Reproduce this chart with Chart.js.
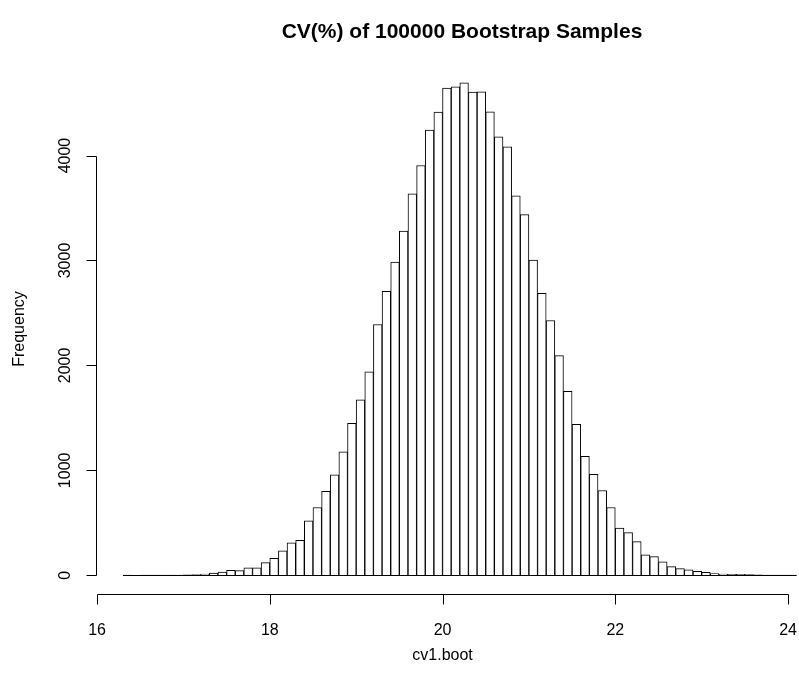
<!DOCTYPE html>
<html lang="en">
  <head>
    <meta charset="UTF-8" />
    <title>CV(%) of 100000 Bootstrap Samples</title>
    <style>
      body {
        margin: 0;
        padding: 0;
        background-color: #fff;
      }

      .chart-container {
        width: 799px;
        height: 684px;
        position: relative;
      }
    </style>
  </head>
  <body>
    <div class="chart-container">
      <canvas id="histChart"></canvas>
    </div>

    <script src="https://cdn.jsdelivr.net/npm/chart.js"></script>
    <script>
      // histogram bins (midpoints, width 0.1) and counts
      const binMids = [
        16.35, 16.45, 16.55, 16.65, 16.75, 16.85, 16.95, 17.05, 17.15, 17.25,
        17.35, 17.45, 17.55, 17.65, 17.75, 17.85, 17.95, 18.05, 18.15, 18.25,
        18.35, 18.45, 18.55, 18.65, 18.75, 18.85, 18.95, 19.05, 19.15, 19.25,
        19.35, 19.45, 19.55, 19.65, 19.75, 19.85, 19.95, 20.05, 20.15, 20.25,
        20.35, 20.45, 20.55, 20.65, 20.75, 20.85, 20.95, 21.05, 21.15, 21.25,
        21.35, 21.45, 21.55, 21.65, 21.75, 21.85, 21.95, 22.05, 22.15, 22.25,
        22.35, 22.45, 22.55, 22.65, 22.75, 22.85, 22.95, 23.05, 23.15, 23.25,
        23.35, 23.45, 23.55, 23.65, 23.75, 23.85, 23.95, 24.05,
      ];
      const counts = [
        1, 0, 1, 2, 2, 3, 3, 5, 7, 11,
        20, 30, 48, 45, 70, 70, 121, 162, 232, 309,
        334, 519, 646, 800, 957, 1177, 1448, 1671, 1938, 2390,
        2705, 2985, 3281, 3634, 3905, 4242, 4414, 4643, 4656, 4694,
        4605, 4608, 4417, 4178, 4083, 3615, 3437, 3004, 2686, 2428,
        2094, 1753, 1438, 1133, 961, 808, 646, 449, 407, 321,
        196, 178, 127, 83, 64, 52, 38, 27, 17, 12,
        10, 9, 6, 4, 3, 2, 1, 1,
      ];
      const binWidth = 0.1;
      const xTicks = [16, 18, 20, 22, 24];
      const yTicks = [0, 1000, 2000, 3000, 4000];

      const titleText = "CV(%) of 100000 Bootstrap Samples";
      const xTitle = "cv1.boot";
      const yTitle = "Frequency";
      const fontFamily = '"Liberation Sans", Arial, Helvetica, sans-serif';

      // R style axes, title and the zero baseline under every bin
      const rAxes = {
        id: "rAxes",
        afterDatasetsDraw(chart) {
          const ctx = chart.ctx;
          const xs = chart.scales.x;
          const ys = chart.scales.y;
          const y0 = Math.round(ys.getPixelForValue(0)) + 0.5;
          ctx.save();
          ctx.strokeStyle = "#000";
          ctx.lineWidth = 1;
          ctx.beginPath();
          ctx.moveTo(xs.getPixelForValue(binMids[0] - binWidth / 2), y0);
          ctx.lineTo(
            xs.getPixelForValue(binMids[binMids.length - 1] + binWidth / 2),
            y0
          );
          ctx.stroke();
          ctx.restore();
        },
        afterDraw(chart) {
          const ctx = chart.ctx;
          const area = chart.chartArea;
          const xs = chart.scales.x;
          const ys = chart.scales.y;
          // the plot region runs past the right edge of the picture
          const midX = (area.left + 828) / 2;
          ctx.save();
          ctx.strokeStyle = "#000";
          ctx.fillStyle = "#000";
          ctx.lineWidth = 1;

          // x axis
          const ax = Math.round(area.bottom) - 0.5;
          ctx.beginPath();
          ctx.moveTo(Math.round(xs.getPixelForValue(xTicks[0])) + 0.5, ax);
          ctx.lineTo(
            Math.round(xs.getPixelForValue(xTicks[xTicks.length - 1])) + 0.5,
            ax
          );
          xTicks.forEach((t) => {
            const px = Math.round(xs.getPixelForValue(t)) + 0.5;
            ctx.moveTo(px, ax);
            ctx.lineTo(px, ax + 10);
          });
          ctx.stroke();
          ctx.font = "16px " + fontFamily;
          ctx.textAlign = "center";
          ctx.textBaseline = "middle";
          xTicks.forEach((t) => {
            ctx.fillText(String(t), xs.getPixelForValue(t), ax + 36);
          });
          ctx.fillText(xTitle, xs.getPixelForValue(20), ax + 61);

          // y axis
          const ay = Math.round(area.left) + 0.5;
          ctx.beginPath();
          ctx.moveTo(ay, Math.round(ys.getPixelForValue(yTicks[0])) + 0.5);
          ctx.lineTo(
            ay,
            Math.round(ys.getPixelForValue(yTicks[yTicks.length - 1])) + 0.5
          );
          yTicks.forEach((t) => {
            const py = Math.round(ys.getPixelForValue(t)) + 0.5;
            ctx.moveTo(ay, py);
            ctx.lineTo(ay - 10, py);
          });
          ctx.stroke();
          yTicks.forEach((t) => {
            ctx.save();
            ctx.translate(ay - 31, ys.getPixelForValue(t));
            ctx.rotate(-Math.PI / 2);
            ctx.fillText(String(t), 0, 0);
            ctx.restore();
          });
          ctx.save();
          ctx.translate(20, (area.top + area.bottom) / 2);
          ctx.rotate(-Math.PI / 2);
          ctx.fillText(yTitle, 0, 0);
          ctx.restore();

          // main title
          ctx.font = "bold 21px " + fontFamily;
          ctx.fillText(titleText, midX, 32);
          ctx.restore();
        },
      };

      document.addEventListener("DOMContentLoaded", function () {
        const ctx = document.getElementById("histChart").getContext("2d");

        new Chart(ctx, {
          type: "bar",
          data: {
            datasets: [
              {
                label: yTitle,
                data: binMids.map((x, i) => ({ x: x, y: counts[i] })),
                backgroundColor: "#fff",
                borderColor: "#000",
                borderWidth: { top: 1, left: 1, right: 1, bottom: 0 },
                borderSkipped: false,
                barPercentage: 1,
                categoryPercentage: 1,
              },
            ],
          },
          options: {
            responsive: true,
            maintainAspectRatio: false,
            animation: false,
            layout: {
              padding: { left: 96, right: 0, top: 63, bottom: 89 },
            },
            scales: {
              x: {
                type: "linear",
                offset: false,
                min: 15.988,
                max: 24.127,
                display: false,
              },
              y: {
                min: -188,
                max: 4882,
                display: false,
              },
            },
            plugins: {
              legend: { display: false },
              tooltip: { enabled: false },
            },
          },
          plugins: [rAxes],
        });
      });
    </script>
  </body>
</html>
